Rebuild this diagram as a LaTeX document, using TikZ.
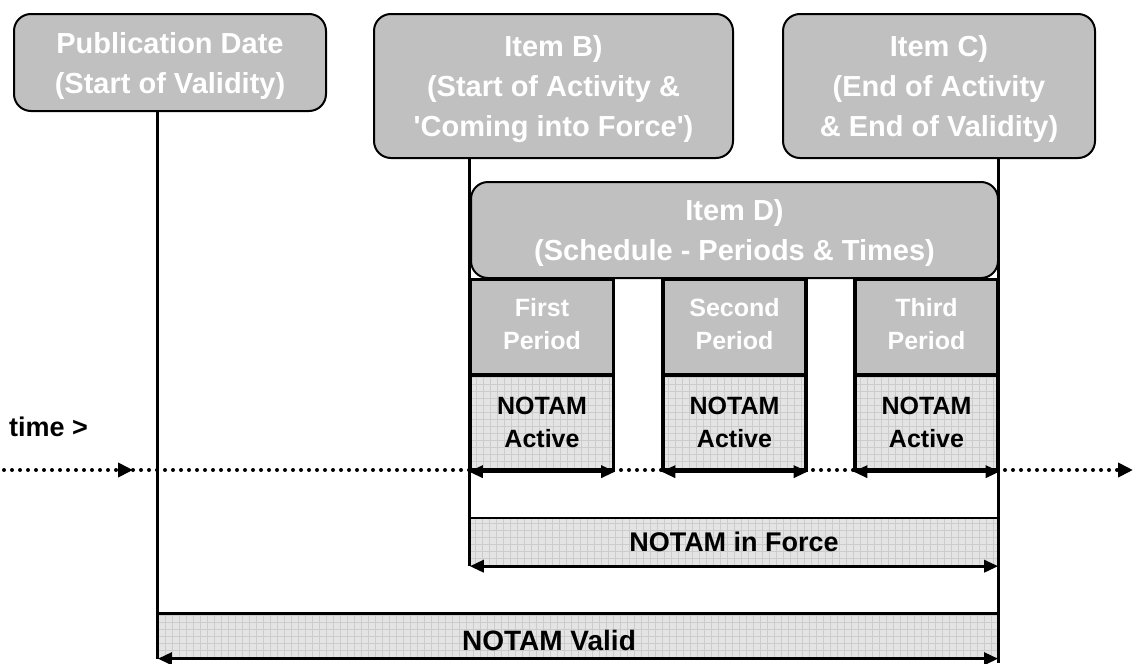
\documentclass[tikz,border=0pt]{standalone}
\usepackage{fontspec}
\setmainfont{Liberation Sans}
\usetikzlibrary{arrows.meta}

\begin{document}
\begin{tikzpicture}[x=1pt, y=-1pt,
    header/.style={draw=black, line width=2pt, rounded corners=17pt, fill=boxgray, text=white,
        font=\fontsize{29}{40}\selectfont\bfseries, align=center, inner sep=0pt, text depth=0pt},
    period/.style={draw=black, line width=3.3pt, fill=boxgray, text=white, minimum width=143pt,
        minimum height=95pt, font=\fontsize{25}{33}\selectfont\bfseries, align=center, inner sep=0pt,
        text depth=6pt},
    hatch/.style={fill=hatchgray, inner sep=0pt, align=center,
        path picture={\draw[gridgray, line width=0.6pt, step=7pt]
            (path picture bounding box.south west) grid (path picture bounding box.north east);}},
    active/.style={hatch, draw=black, line width=3.3pt, minimum width=143pt, minimum height=95pt,
        font=\fontsize{25}{33}\selectfont\bfseries},
    stem/.style={line width=3.3pt},
    span/.style={{Triangle[length=14pt,width=12pt]}-{Triangle[length=14pt,width=12pt]}, line width=3.2pt},
    timeaxis/.style={line width=4pt, dash pattern=on 0pt off 8pt, line cap=round,
        -{Triangle[length=15pt,width=14pt]}}
]
    % Define colors
    \definecolor{boxgray}{RGB}{192, 192, 192}
    \definecolor{hatchgray}{RGB}{228, 228, 228}
    \definecolor{gridgray}{RGB}{204, 204, 204}

    \useasboundingbox (0, 0) rectangle (1133, 664);

    % Time axis
    \node[anchor=west, font=\fontsize{27}{30}\selectfont\bfseries, inner sep=0pt] (timelbl) at (9, 427) {time >};
    \draw[timeaxis] (4, 470) -- (133, 470);
    \draw[timeaxis] (133, 470) -- (1133, 470);

    % Date boxes
    \node[header, minimum width=312pt, minimum height=97pt] (pub) at (170, 62.5)
        {Publication Date\\(Start of Validity)};
    \node[header, minimum width=359pt, minimum height=144pt] (itemB) at (553.5, 86)
        {Item B)\\(Start of Activity \&\\\textquotesingle Coming into Force\textquotesingle)};
    \node[header, minimum width=312pt, minimum height=144pt] (itemC) at (939, 86)
        {Item C)\\(End of Activity\\\& End of Validity)};

    % Schedule
    \node[header, minimum width=527pt, minimum height=96pt] (itemD) at (734.5, 230)
        {Item D)\\(Schedule - Periods \& Times)};

    % Periods and activity
    \node[period] (per1) at (542, 327) {First\\Period};
    \node[period] (per2) at (734.5, 327) {Second\\Period};
    \node[period] (per3) at (926.5, 327) {Third\\Period};
    \node[active] (act1) at (542, 422.5) {NOTAM\\Active};
    \node[active] (act2) at (734.5, 422.5) {NOTAM\\Active};
    \node[active] (act3) at (926.5, 422.5) {NOTAM\\Active};

    % In force and validity
    \node[hatch, minimum width=528pt, minimum height=48pt, font=\fontsize{27}{30}\selectfont\bfseries] (force)
        at (734, 542) {NOTAM in Force};
    \node[hatch, minimum width=840pt, minimum height=45pt] (valid) at (578, 636) {};
    \node[font=\fontsize{28}{30}\selectfont\bfseries, inner sep=0pt] (validlbl) at (549, 640) {NOTAM Valid};
    \draw[line width=2.5pt] (force.north west) -- (force.north east);
    \draw[line width=2.5pt] (valid.north west) -- (valid.north east);

    % Stems
    \draw[stem] (pub.south -| valid.south west) -- (valid.south west);
    \draw[stem] (itemB.south -| force.west) -- (force.south west);
    \draw[stem] (itemC.south -| valid.east) -- ([yshift=-4pt]valid.south east);

    % Spans
    \foreach \n in {act1, act2, act3} {
        \draw[span] (\n.south west) -- (\n.south east);
    }
    \draw[span] (force.south west) -- (force.south east);
    \draw[span] (valid.south west) -- (valid.south east);

\end{tikzpicture}
\end{document}
